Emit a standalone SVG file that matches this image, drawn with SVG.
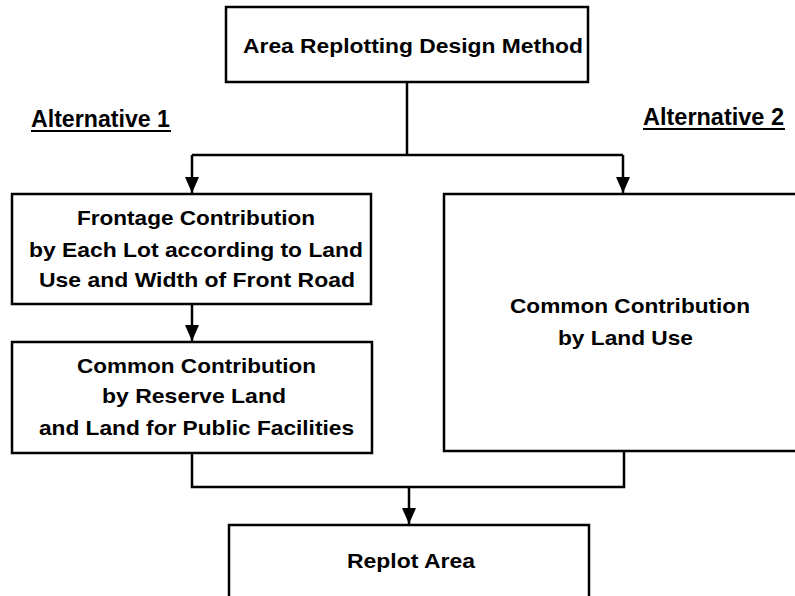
<svg xmlns="http://www.w3.org/2000/svg" width="795" height="596" viewBox="0 0 795 596">
<defs>
<style>
.box{fill:#fff;stroke:#000;stroke-width:2.5}
.ln{fill:none;stroke:#000;stroke-width:2.5}
.t{font-family:"Liberation Sans",Arial,sans-serif;font-weight:bold;font-size:21px;fill:#000}
.alt{font-family:"Liberation Sans",Arial,sans-serif;font-weight:bold;font-size:23px;fill:#000}
.ul{stroke:#000;stroke-width:2}
</style>
<marker id="ah" markerUnits="userSpaceOnUse" markerWidth="16" markerHeight="14" refX="16" refY="7" orient="auto">
<path d="M0,0 L16,7 L0,14 z" fill="#000"/>
</marker>
</defs>
<rect width="795" height="596" fill="#fff"/>
<g id="connectors">
<path class="ln" d="M407,82 V155"/>
<path class="ln" d="M192,155 H623"/>
<path class="ln" d="M192,155 V193" marker-end="url(#ah)"/>
<path class="ln" d="M623,155 V193" marker-end="url(#ah)"/>
<path class="ln" d="M192,304 V341" marker-end="url(#ah)"/>
<path class="ln" d="M192,453 V487 H624 V451"/>
<path class="ln" d="M409,487 V524" marker-end="url(#ah)"/>
</g>
<g id="label-alt1">
<text class="alt" x="31" y="127" textLength="139" lengthAdjust="spacingAndGlyphs">Alternative 1</text>
<line class="ul" x1="31" y1="131" x2="171" y2="131"/>
</g>
<g id="label-alt2">
<text class="alt" x="643" y="125" textLength="141" lengthAdjust="spacingAndGlyphs">Alternative 2</text>
<line class="ul" x1="643" y1="129" x2="785" y2="129"/>
</g>
<g id="node-top">
<rect class="box" x="226" y="7" width="362" height="75"/>
<text class="t" x="243" y="53" font-size="23.5" textLength="340" lengthAdjust="spacingAndGlyphs">Area Replotting Design Method</text>
</g>
<g id="node-frontage">
<rect class="box" x="12" y="194" width="359" height="110"/>
<text class="t" x="77" y="225" textLength="238" lengthAdjust="spacingAndGlyphs">Frontage Contribution</text>
<text class="t" x="29" y="257" textLength="334" lengthAdjust="spacingAndGlyphs">by Each Lot according to Land</text>
<text class="t" x="39" y="287" textLength="316" lengthAdjust="spacingAndGlyphs">Use and Width of Front Road</text>
</g>
<g id="node-common-reserve">
<rect class="box" x="12" y="342" width="360" height="111"/>
<text class="t" x="77" y="373" textLength="239" lengthAdjust="spacingAndGlyphs">Common Contribution</text>
<text class="t" x="102" y="403" textLength="184" lengthAdjust="spacingAndGlyphs">by Reserve Land</text>
<text class="t" x="39" y="435" textLength="315" lengthAdjust="spacingAndGlyphs">and Land for Public Facilities</text>
</g>
<g id="node-common-landuse">
<rect class="box" x="444" y="194" width="360" height="257"/>
<text class="t" x="510" y="313" font-size="22" textLength="240" lengthAdjust="spacingAndGlyphs">Common Contribution</text>
<text class="t" x="558" y="345" font-size="22" textLength="135" lengthAdjust="spacingAndGlyphs">by Land Use</text>
</g>
<g id="node-replot">
<rect class="box" x="229" y="525" width="360" height="90"/>
<text class="t" x="347" y="568" font-size="23" textLength="128" lengthAdjust="spacingAndGlyphs">Replot Area</text>
</g>
</svg>
